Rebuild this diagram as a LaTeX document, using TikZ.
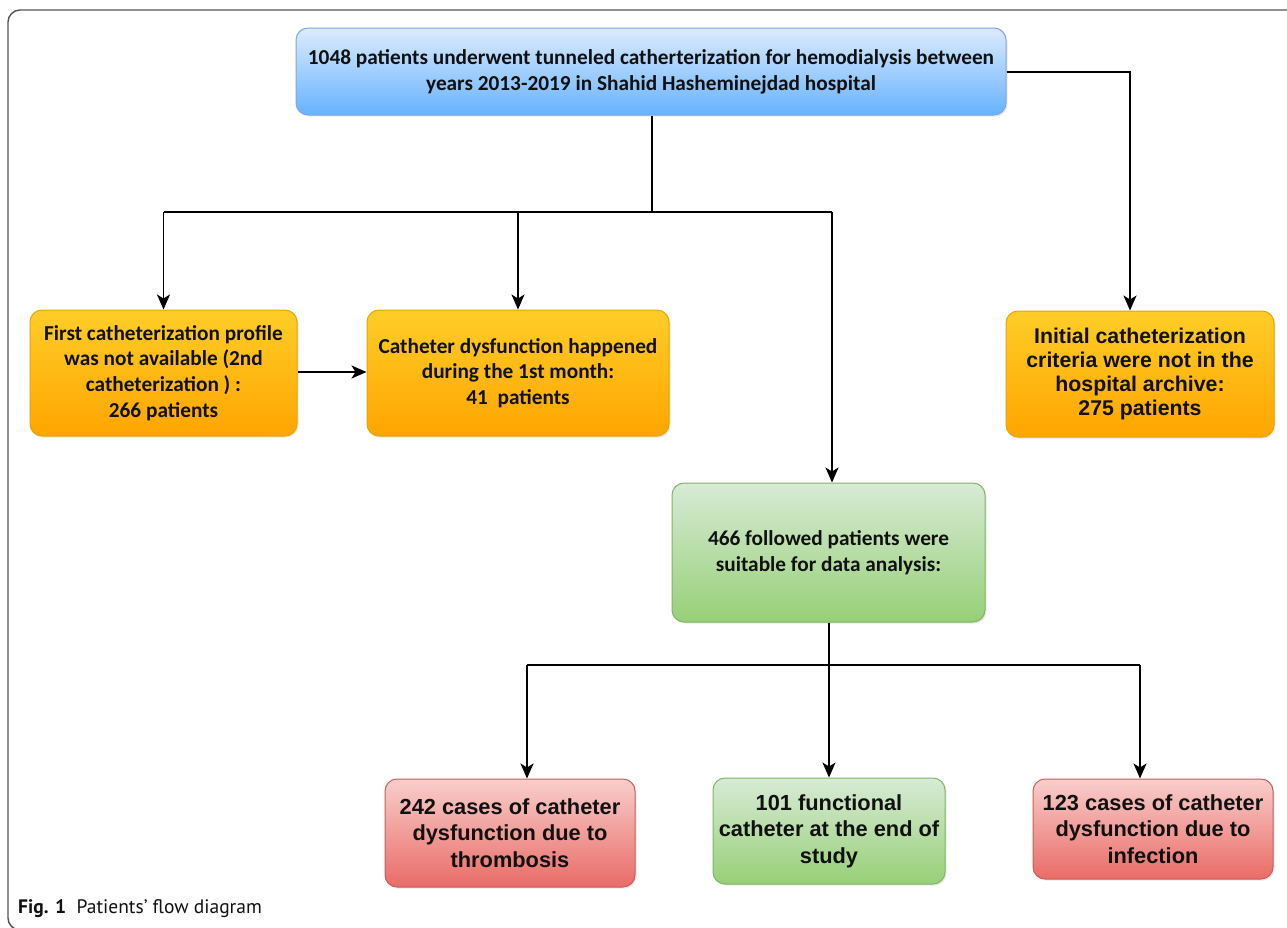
\documentclass[tikz,border=0pt]{standalone}
\usepackage{fontspec}
\setmainfont{Carlito}
\newfontfamily\arialf{Liberation Sans}
\newfontfamily\capf{PT Sans}
\usetikzlibrary{arrows.meta,shadows}
\definecolor{bluetop}{HTML}{DCEBFD}
\definecolor{bluebot}{HTML}{66B2FF}
\definecolor{blueln}{HTML}{7EA6E0}
\definecolor{ortop}{HTML}{FFCD28}
\definecolor{orbot}{HTML}{FFA500}
\definecolor{orln}{HTML}{E0A800}
\definecolor{grtop}{HTML}{D8EAD6}
\definecolor{grbot}{HTML}{97D077}
\definecolor{grln}{HTML}{82B366}
\definecolor{rdtop}{HTML}{F8CECC}
\definecolor{rdbot}{HTML}{EA6B66}
\definecolor{rdln}{HTML}{C06060}
\definecolor{framec}{HTML}{555555}
\definecolor{txt}{HTML}{111111}
\tikzset{
  box/.style={rounded corners=12pt, inner sep=0pt, align=center, line width=1pt,
    text=txt, drop shadow={opacity=0.18, shadow xshift=1.5pt, shadow yshift=-1.5pt}},
  bluebox/.style={box, draw=blueln, top color=bluetop, bottom color=bluebot},
  orbox/.style={box, draw=orln, top color=ortop, bottom color=orbot},
  grbox/.style={box, draw=grln, top color=grtop, bottom color=grbot},
  rdbox/.style={box, draw=rdln, top color=rdtop, bottom color=rdbot},
  calf/.style={font=\fontsize{21.3}{25.7}\selectfont\bfseries},
  arf/.style={font=\arialf\fontsize{21.8}{26.5}\selectfont\bfseries},
  arfs/.style={font=\arialf\fontsize{21.3}{24}\selectfont\bfseries},
  conn/.style={line width=1.9pt, draw=black},
  arr/.style={conn, -{Stealth[length=15pt,width=13pt,inset=4pt]}}
}
\begin{document}
\begin{tikzpicture}[x=1pt,y=-1pt]
\useasboundingbox (0,0) rectangle (1287,927);
\clip (0,0) rectangle (1287,927);
\fill[white] (0,0) rectangle (1287,927);
\draw[framec, line width=1.4pt, rounded corners=12pt] (8,10) rectangle (1320,930);

\node[bluebox, calf, minimum width=710pt, minimum height=87pt] (top) at (651,71.5)
  {1048 patients underwent tunneled catherterization for hemodialysis between\\years 2013-2019 in Shahid Hasheminejdad hospital};
\node[orbox, calf, minimum width=267pt, minimum height=126pt] (lbox) at (163.5,373)
  {First catheterization profile\\was not available (2nd\\catheterization ) :\\266 patients};
\node[orbox, calf, minimum width=302pt, minimum height=126pt] (mbox) at (518,373)
  {Catheter dysfunction happened\\during the 1st month:\\41\ \ patients};
\node[orbox, arfs, minimum width=268pt, minimum height=126pt] (rbox) at (1140,374)
  {Initial catheterization\\criteria were not in the\\hospital archive:\\275 patients};
\node[grbox, calf, minimum width=313pt, minimum height=139pt] (gbox) at (828.5,552.5)
  {466 followed patients were\\suitable for data analysis:};
\node[rdbox, arf, minimum width=250pt, minimum height=108pt] (r1) at (510,833)
  {242 cases of catheter\\dysfunction due to\\thrombosis};
\node[grbox, arf, minimum width=232pt, minimum height=106pt] (g1) at (829,831)
  {101 functional\\catheter at the end of\\study};
\node[rdbox, arf, minimum width=240pt, minimum height=100pt] (r2) at (1153,829)
  {123 cases of catheter\\dysfunction due to\\infection};

\coordinate (j1) at (652,212);
\coordinate (jl) at (163.5,212);
\coordinate (jg) at (832,212);
\coordinate (rk) at (1130,72);
\coordinate (j2) at (829,665);
\coordinate (bl) at (527,665);
\coordinate (br) at (1140,665);

\draw[conn] (top.south -| j1) -- (j1);
\draw[conn] (jl) -- (jg);
\draw[arr] (jl) -- (lbox.north);
\draw[arr] (j1 -| mbox.north) -- (mbox.north);
\draw[arr] (jg) -- (jg |- gbox.north);
\draw[arr] (top.east |- rk) -- (rk) -- (rk |- rbox.north);
\draw[arr] (lbox.east |- 0,372) -- (mbox.west |- 0,372);
\draw[conn] (gbox.south -| j2) -- (j2);
\draw[conn] (bl) -- (br);
\draw[arr] (bl) -- (bl |- r1.north);
\draw[arr] (j2) -- (j2 |- g1.north);
\draw[arr] (br) -- (br |- r2.north);

\node[anchor=base west, inner sep=0pt, font=\capf\fontsize{19.5}{22}\selectfont, text=txt] (cap) at (18,913)
  {\textbf{Fig. 1}\ \ Patients’ flow diagram};
\end{tikzpicture}
\end{document}
